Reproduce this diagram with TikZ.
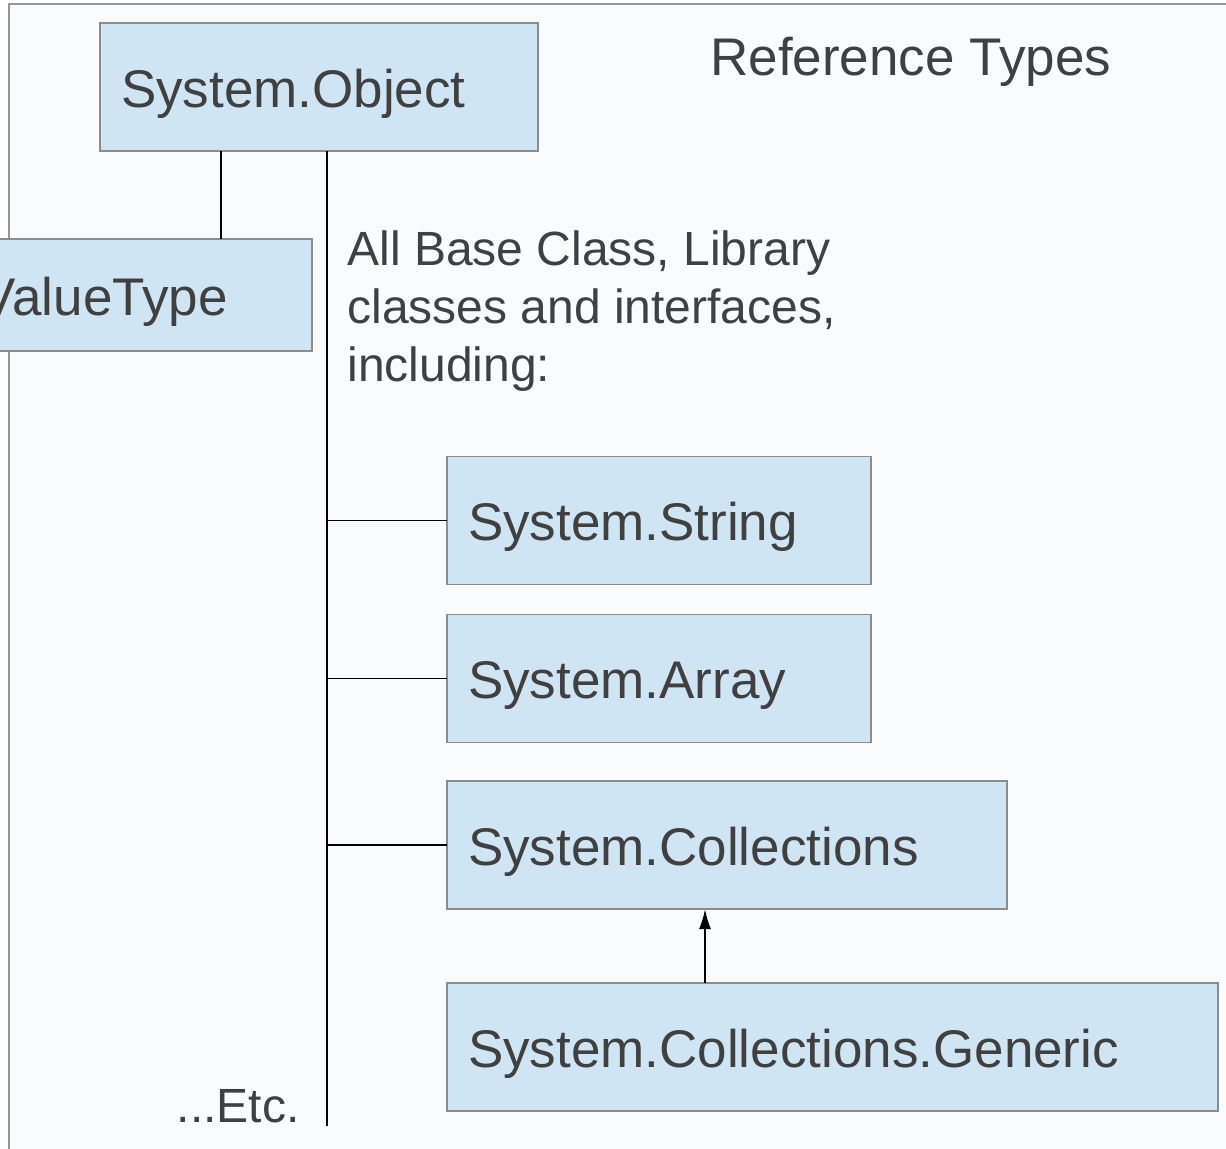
\documentclass[tikz,border=0pt]{standalone}
\usepackage[usenames,dvipsnames]{xcolor}
\usepackage{fontspec}
\setmainfont{Liberation Sans}
\usepackage{tkz-graph}
\usetikzlibrary{arrows,arrows.meta}
\definecolor{boxfill}{RGB}{207,229,243}
\definecolor{boxline}{RGB}{140,140,140}
\definecolor{textgray}{RGB}{64,64,64}
\definecolor{paper}{RGB}{250,251,253}
\definecolor{frameline}{RGB}{150,150,150}

\begin{document}
\begin{tikzpicture}[x=0.5pt,y=-0.5pt]
% hierarquia dos tipos de referencia a partir de System.Object
  \tikzset{boxtext/.style={inner xsep=10.5pt, inner ysep=0pt, align=left,
           text height=20pt, text depth=0pt,
           font=\fontsize{26.5}{29}\selectfont}}
  \tikzset{txt/.style={inner sep=0pt, text=textgray, align=left,
           font=\fontsize{26.5}{29}\selectfont}}
  \tikzset{smalltxt/.style={txt, font=\fontsize{24}{29}\selectfont}}

\clip (0,0) rectangle (1226,1148);
\fill[white] (0,0) rectangle (1226,1148);
\draw[frameline, fill=paper, line width=0.75pt] (9,4) rectangle (1240,1160);

%part valuetype
\SetVertexNormal[Shape = rectangle, FillColor = boxfill, LineColor = boxline,
                 TextColor = textgray, InnerSep = 0pt, MinSize = 56pt,
                 LineWidth = 0.75pt]
\tikzset{VertexStyle/.append style={boxtext}}
\Vertex[x=136, y=295, L={ValueType}, style={text width=155pt}]{vt}

%part object
\SetVertexNormal[Shape = rectangle, FillColor = boxfill, LineColor = boxline,
                 TextColor = textgray, InnerSep = 0pt, MinSize = 64pt,
                 LineWidth = 0.75pt]
\tikzset{VertexStyle/.append style={boxtext}}
\Vertex[x=319, y=87, L={System.Object}, style={text width=198pt}]{obj}

%part string
\Vertex[x=659, y=520.5, L={System.String}, style={text width=191pt}]{str}

%part array
\Vertex[x=659, y=678.5, L={System.Array}, style={text width=191pt}]{arr}

%part collections
\Vertex[x=727, y=845, L={System.Collections}, style={text width=259pt}]{col}

%part generic
\Vertex[x=832.5, y=1047, L={System.Collections.Generic},
        style={text width=364.5pt}]{gen}

% textos
\node[txt, anchor=base west] (title) at (710,75) {Reference Types};
\node[smalltxt, anchor=base west] (note) at (347,381)
  {All Base Class, Library\\classes and interfaces,\\including:};
\node[smalltxt, anchor=base east] (etc) at (300,1122) {...Etc.};

% ligacoes
\coordinate (vtx) at (221,295);
\coordinate (tkend) at (327,1126);
\coordinate (arx) at (705,0);
\draw[line width=0.75pt] (obj.south -| vtx) -- (vt.north -| vtx);
\draw[line width=0.75pt] (tkend |- obj.south) -- (tkend);
\draw[line width=0.75pt] (str.west) -- (str.west -| tkend);
\draw[line width=0.75pt] (arr.west) -- (arr.west -| tkend);
\draw[line width=0.75pt] (col.west) -- (col.west -| tkend);
\draw[line width=1pt, -{Latex[length=10pt,width=6pt]}]
  (gen.north -| arx) -- (col.south -| arx);

\end{tikzpicture}
\end{document}
